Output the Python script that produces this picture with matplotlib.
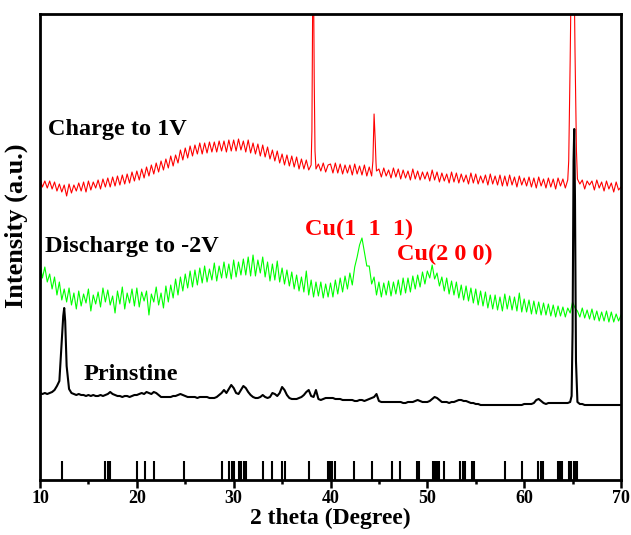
import numpy as np
import matplotlib
matplotlib.use("Agg")
import matplotlib.pyplot as plt

# 2theta grid, 0.25 deg steps from 10 to 70
theta = np.linspace(10, 70, 241)

# Charge to 1V (red)
charge = [
    302, 294, 300, 293,  300, 292, 299, 290,  297, 289, 296, 285,  297, 288, 296, 290,
    298, 290, 299, 289,  300, 291, 299, 293,  301, 292, 302, 294,  303, 294, 304, 295,
    305, 296, 306, 297,  307, 298, 309, 300,  310, 301, 312, 303,  314, 305, 316, 307,
    318, 309, 320, 311,  322, 313, 325, 315,  326, 318, 331, 321,  333, 323, 335, 325,
    336, 327, 338, 327,  338, 328, 339, 329,  339, 329, 340, 330,  340, 329, 341, 330,
    341, 330, 342, 331,  340, 329, 341, 328,  338, 327, 337, 325,  336, 324, 334, 322,
    331, 320, 330, 318,  327, 316, 326, 315,  325, 314, 324, 312,  322, 312, 321, 311,
    316, 500, 312, 317,  310, 318, 309, 316,  317, 308, 318, 308,  317, 307, 316, 308,
    316, 306, 317, 307,  315, 306, 316, 305,  314, 305, 367, 310,  312, 304, 313, 305,
    311, 303, 313, 304,  312, 302, 311, 303,  310, 301, 312, 302,  310, 301, 309, 302,
    309, 300, 311, 301,  309, 299, 308, 300,  307, 298, 309, 299,  308, 298, 307, 299,
    306, 297, 308, 298,  307, 297, 305, 298,  306, 296, 307, 297,  305, 296, 306, 295,
    305, 295, 306, 296,  304, 294, 305, 296,  303, 295, 304, 294,  303, 293, 304, 295,
    302, 293, 303, 294,  302, 292, 303, 295,  302, 293, 301, 420,  580, 430, 302, 297,
    301, 292, 300, 296,  300, 291, 301, 293,  299, 290, 300, 292,  298, 289, 299, 291,
    294,
]
charge_px = [38.08, 38.14, 38.2, 38.32, 38.4, 44.38, 44.62, 44.7, 64.6, 64.9, 65.1, 65.4]
charge_py = [350, 450, 540, 400, 330, 320, 340, 318, 320, 540, 560, 330]

# Discharge to -2V (green)
discharge = [
    218, 203, 214, 199,  207, 192, 204, 186,  199, 181, 192, 179,  193, 176, 188, 172,
    190, 175, 187, 178,  192, 170, 186, 177,  189, 174, 193, 179,  191, 176, 185, 168,
    190, 177, 194, 172,  188, 178, 192, 175,  193, 174, 189, 180,  190, 166, 187, 179,
    194, 176, 188, 173,  195, 179, 196, 183,  202, 186, 204, 190,  207, 193, 210, 194,
    211, 196, 213, 198,  215, 199, 212, 201,  218, 200, 215, 203,  219, 203, 217, 202,
    221, 204, 219, 206,  222, 206, 224, 205,  226, 205, 221, 208,  224, 204, 219, 200,
    217, 201, 220, 199,  213, 197, 211, 195,  209, 192, 206, 190,  204, 189, 210, 186,
    201, 184, 199, 185,  199, 183, 197, 184,  198, 184, 201, 187,  203, 189, 205, 192,
    208, 196, 214, 224,  236, 243, 229, 215,  215, 197, 204, 186,  199, 184, 198, 186,
    200, 185, 199, 187,  201, 186, 203, 188,  203, 189, 205, 192,  206, 194, 209, 197,
    210, 203, 216, 202,  208, 195, 204, 190,  203, 187, 200, 186,  199, 183, 196, 181,
    195, 180, 193, 178,  192, 176, 190, 175,  189, 173, 186, 172,  186, 171, 184, 170,
    187, 172, 185, 171,  184, 170, 188, 169,  182, 169, 181, 167,  180, 167, 179, 166,
    178, 166, 177, 165,  176, 164, 175, 165,  174, 164, 173, 168,  179, 173, 170, 164,
    173, 163, 171, 162,  172, 161, 170, 160,  169, 160, 170, 159,  169, 159, 167, 160,
    166,
]

# Prinstine (black)
pristine = [
    88, 87, 88, 87,  88, 89, 91, 95,  100, 140, 173, 115,  92, 88, 87, 86,
    87, 86, 86, 85,  86, 85, 86, 85,  85, 86, 85, 86,  87, 89, 87, 86,
    85, 85, 84, 85,  85, 84, 85, 86,  86, 87, 88, 87,  89, 88, 87, 89,
    88, 86, 84, 84,  84, 84, 84, 85,  85, 86, 87, 86,  85, 84, 84, 84,
    84, 83, 84, 84,  84, 84, 83, 83,  83, 84, 86, 88,  91, 88, 92, 96,
    93, 88, 87, 91,  95, 93, 89, 86,  84, 83, 83, 84,  86, 84, 83, 84,
    88, 87, 85, 88,  94, 91, 86, 83,  82, 82, 82, 83,  84, 86, 89, 91,
    85, 84, 91, 82,  81, 82, 83, 83,  83, 83, 82, 82,  82, 81, 81, 81,
    81, 81, 80, 80,  81, 81, 80, 81,  82, 83, 84, 87,  80, 79, 79, 79,
    79, 79, 79, 79,  79, 79, 78, 78,  79, 79, 79, 80,  81, 80, 79, 79,
    79, 80, 82, 84,  83, 81, 79, 79,  79, 78, 79, 79,  80, 81, 81, 80,
    80, 79, 78, 78,  77, 77, 76, 76,  76, 76, 76, 76,  76, 76, 76, 76,
    76, 76, 76, 76,  76, 76, 76, 76,  77, 77, 77, 77,  78, 81, 82, 80,
    78, 77, 78, 78,  78, 78, 78, 78,  78, 78, 78, 79,  150, 280, 79, 77,
    77, 76, 76, 76,  76, 76, 76, 76,  76, 76, 76, 76,  76, 76, 76, 76,
    76,
]
pristine_px = [12.4, 12.6, 64.9, 65.1, 65.17, 65.35]
pristine_py = [165, 160, 85, 320, 352, 120]

# reference card positions (sticks)
ref_pos = [12.3, 16.76, 17.0, 17.27, 20.0, 20.8, 21.8, 24.9, 28.8, 29.5, 29.8, 30.0,
           30.6, 30.8, 31.1, 31.3, 33.0, 34.0, 35.0, 35.3, 37.8, 39.7, 39.9, 40.2,
           40.5, 42.4, 44.3, 46.4, 47.2, 48.9, 49.1, 50.6, 50.8, 51.0, 51.2, 51.7,
           53.4, 53.7, 53.9, 54.6, 54.8, 58.0, 59.8, 61.4, 61.7, 61.9, 63.5, 63.7,
           63.9, 64.6, 64.8, 65.1, 65.3, 65.5]


def merge(x, y, ex, ey):
    xx = np.concatenate([x, ex])
    yy = np.concatenate([np.asarray(y, float), ey])
    o = np.argsort(xx)
    return xx[o], yy[o]


plt.rcParams['font.family'] = ['Liberation Serif', 'DejaVu Serif']
plt.rcParams['font.weight'] = 'bold'

fig = plt.figure(figsize=(6.31, 5.35), dpi=100)
ax = fig.add_axes([40 / 631, 55 / 535, 581 / 631, 466 / 535])

x, y = merge(theta, charge, charge_px, charge_py)
ax.plot(x, y, c='#ff0000', lw=0.8)
ax.plot(theta, discharge, c='#00ff00', lw=0.8)
x, y = merge(theta, pristine, pristine_px, pristine_py)
ax.plot(x, y, c='k', lw=1.5)
ax.vlines(ref_pos, 1, 20, colors='k', lw=1.5)

ax.text(10.83, 346, 'Charge to 1V', fontsize=17.5, fontweight='bold')
ax.text(10.52, 229, 'Discharge to -2V', fontsize=17.5, fontweight='bold')
ax.text(14.54, 101, 'Prinstine', fontsize=17.5, fontweight='bold')
ax.text(37.37, 246, 'Cu(1  1  1)', fontsize=17.5, fontweight='bold', color='#ff0000')
ax.text(46.87, 221, 'Cu(2 0 0)', fontsize=17.5, fontweight='bold', color='#ff0000')

ax.set_xlim(10, 70)
ax.set_ylim(1, 467)
ax.set_xticks([10, 20, 30, 40, 50, 60, 70])
ax.set_xticks([15, 25, 35, 45, 55, 65], minor=True)
ax.set_yticks([])
ax.tick_params(axis='x', which='major', direction='out', length=6, width=1.8,
               labelsize=13, pad=1.5)
ax.tick_params(axis='x', which='minor', direction='out', length=3, width=1.8)
for s in ax.spines.values():
    s.set_linewidth(2)

ax.set_xlabel('2 theta (Degree)', fontsize=17, fontweight='bold', labelpad=0)
ax.set_ylabel('Intensity (a.u.)', fontsize=19, fontweight='bold')
ax.yaxis.set_label_coords(-0.02, 0.545)

fig.savefig('out.png', dpi=100)
